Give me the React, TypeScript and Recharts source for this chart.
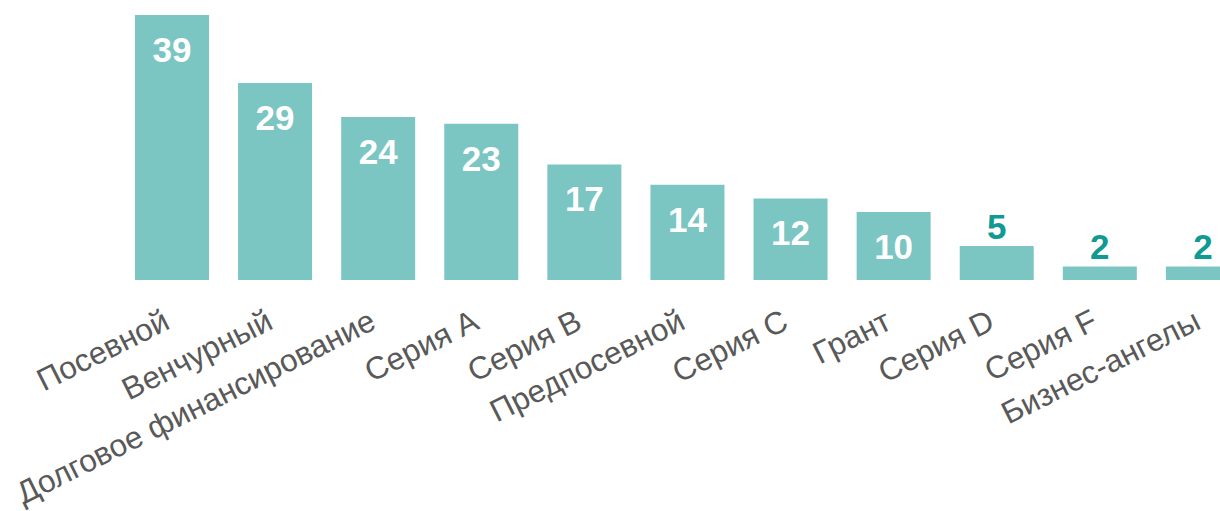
import React from "react";
import { BarChart, Bar, XAxis, YAxis, LabelList } from "recharts";

const categories = [
  "Посевной",
  "Венчурный",
  "Долговое финансирование",
  "Серия A",
  "Серия B",
  "Предпосевной",
  "Серия C",
  "Грант",
  "Серия D",
  "Серия F",
  "Бизнес-ангелы",
];
const values = [39, 29, 24, 23, 17, 14, 12, 10, 5, 2, 2];

const data = categories.map((name, i) => ({ name, value: values[i] }));

const FONT = "'Liberation Sans', Arial, sans-serif";

// angled category label, anchored at its end under the bar
const renderTick = (props: any) => {
  const { x, y, payload } = props;
  return (
    <g transform={`translate(${x},${y + 40}) rotate(-26.5)`}>
      <text
        x={0}
        y={0}
        textAnchor="end"
        fontSize={31.5}
        fontFamily={FONT}
        fill="#595959"
      >
        {payload.value}
      </text>
    </g>
  );
};

// big values go inside the bar, small ones sit on top of it
const renderLabel = (props: any) => {
  const { x, y, width, value } = props;
  const cx = Number(x) + Number(width) / 2;
  const inside = Number(value) >= 10;
  return (
    <text
      x={cx}
      y={inside ? Number(y) + 47 : Number(y) - 7}
      textAnchor="middle"
      fontSize={35}
      fontWeight="bold"
      fontFamily={FONT}
      fill={inside ? "#ffffff" : "#0f9a94"}
    >
      {value}
    </text>
  );
};

export default function App() {
  return (
    <div
      style={{
        position: "fixed",
        left: 0,
        top: 0,
        width: 1220,
        height: 511,
        overflow: "hidden",
        background: "#fff",
      }}
    >
      <BarChart
        width={1254}
        height={511}
        data={data}
        margin={{ top: 15, right: 0, left: 120, bottom: 0 }}
      >
        <XAxis
          dataKey="name"
          axisLine={false}
          tickLine={false}
          interval={0}
          height={231}
          tick={renderTick}
        />
        <YAxis hide domain={[0, 39]} />
        <Bar
          dataKey="value"
          fill="#7bc5c3"
          barSize={74}
          isAnimationActive={false}
        >
          <LabelList dataKey="value" content={renderLabel} />
        </Bar>
      </BarChart>
    </div>
  );
}
